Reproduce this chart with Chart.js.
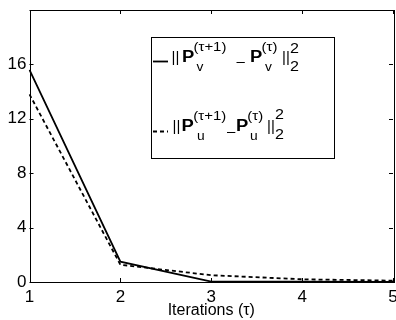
<!DOCTYPE html>
<html>
<head>
<meta charset="utf-8">
<script src="https://cdn.jsdelivr.net/npm/chart.js@4"></script>
<style>
  html, body { margin: 0; padding: 0; background: #fff; }
  #wrap { width: 396px; height: 320px; position: relative; }
</style>
</head>
<body>
<div id="wrap"><canvas id="convChart"></canvas></div>
<script>
const iterations = ['1', '2', '3', '4', '5'];
const diffV = [15.6, 1.5, 0.03, 0.02, 0.01];   // solid
const diffU = [13.8, 1.27, 0.5, 0.2, 0.1];     // dashed
const yMax = 20;
const yStep = 4;
const xTitle = 'Iterations (\u03c4)';

const FONT = '"Liberation Sans", Arial, Helvetica, sans-serif';

function drawText(ctx, text, x, y, size, bold, stretch) {
    ctx.save();
    ctx.font = (bold ? 'bold ' : '') + size + 'px ' + FONT;
    ctx.fillStyle = '#000';
    ctx.textAlign = 'left';
    ctx.textBaseline = 'alphabetic';
    ctx.translate(x, y);
    ctx.scale(stretch || 1.15, 1);
    ctx.fillText(text, 0, 0);
    ctx.restore();
}

// box + inward tick marks, matlab style
const frameTicks = {
    id: 'frameTicks',
    afterDatasetsDraw(chart) {
        const ctx = chart.ctx;
        const a = chart.chartArea;
        const xs = chart.scales.x;
        const ys = chart.scales.y;
        const len = 4;
        ctx.save();
        ctx.strokeStyle = '#000';
        ctx.lineWidth = 1;
        ctx.beginPath();
        xs.ticks.forEach((t, i) => {
            const px = Math.round(xs.getPixelForTick(i)) + 0.5;
            ctx.moveTo(px, a.bottom); ctx.lineTo(px, a.bottom - len);
            ctx.moveTo(px, a.top); ctx.lineTo(px, a.top + len);
        });
        ys.ticks.forEach((t) => {
            const py = Math.round(ys.getPixelForValue(t.value)) + 0.5;
            ctx.moveTo(a.left, py); ctx.lineTo(a.left + len, py);
            ctx.moveTo(a.right, py); ctx.lineTo(a.right - len, py);
        });
        ctx.stroke();
        ctx.strokeRect(Math.round(a.left) + 0.5, Math.round(a.top) + 0.5,
            Math.round(a.right - a.left), Math.round(a.bottom - a.top));
        ctx.restore();
    }
};

// legend with sub/superscripts
const mathLegend = {
    id: 'mathLegend',
    afterDraw(chart) {
        const ctx = chart.ctx;
        ctx.save();
        ctx.fillStyle = '#fff';
        ctx.fillRect(151, 37, 183, 121);
        ctx.strokeStyle = '#000';
        ctx.lineWidth = 1;
        ctx.strokeRect(151.5, 37.5, 183, 121);

        ctx.lineWidth = 1.8;
        ctx.beginPath();
        ctx.moveTo(153, 61.5); ctx.lineTo(168, 61.5);
        ctx.stroke();
        ctx.setLineDash([4, 3]);
        ctx.beginPath();
        ctx.moveTo(153, 131.5); ctx.lineTo(168, 131.5);
        ctx.stroke();
        ctx.restore();

        // first entry
        drawText(ctx, '||', 171.5, 62, 15, false, 1);
        drawText(ctx, 'P', 182, 62, 16, true);
        drawText(ctx, '(\u03c4+1)', 193.5, 51, 13, false);
        drawText(ctx, 'v', 196.5, 71, 12, false);
        drawText(ctx, '\u2013', 236.5, 66, 15, false, 1);
        drawText(ctx, 'P', 250, 62, 16, true);
        drawText(ctx, '(\u03c4)', 261.5, 51, 13, false);
        drawText(ctx, 'v', 265, 71, 12, false);
        drawText(ctx, '||', 282, 62, 15, false, 1);
        drawText(ctx, '2', 290, 52.5, 14, false);
        drawText(ctx, '2', 290, 71, 14, false);

        // second entry
        drawText(ctx, '||', 172.5, 131, 15, false, 1);
        drawText(ctx, 'P', 181.5, 131, 16, true);
        drawText(ctx, '(\u03c4+1)', 193.3, 120, 13, false);
        drawText(ctx, 'u', 197, 140, 12, false);
        drawText(ctx, '\u2013', 227, 135.5, 15, false, 1);
        drawText(ctx, 'P', 236, 131, 16, true);
        drawText(ctx, '(\u03c4)', 247.3, 120, 13, false);
        drawText(ctx, 'u', 250, 140, 12, false);
        drawText(ctx, '||', 267, 131, 15, false, 1);
        drawText(ctx, '2', 275, 119, 14, false);
        drawText(ctx, '2', 275, 139, 14, false);
    }
};

function createConvergenceChart() {
    const ctx = document.getElementById('convChart').getContext('2d');
    new Chart(ctx, {
        type: 'line',
        data: {
            labels: iterations,
            datasets: [{
                label: 'P_v',
                data: diffV,
                borderColor: '#000',
                borderWidth: 1.8,
                pointRadius: 0,
                tension: 0,
                fill: false
            }, {
                label: 'P_u',
                data: diffU,
                borderColor: '#000',
                borderWidth: 1.8,
                borderDash: [4, 3],
                pointRadius: 0,
                tension: 0,
                fill: false
            }]
        },
        options: {
            responsive: true,
            maintainAspectRatio: false,
            animation: false,
            layout: { padding: { left: 0, right: 3, top: 10, bottom: 0 } },
            plugins: {
                legend: { display: false },
                tooltip: { enabled: false }
            },
            scales: {
                x: {
                    type: 'category',
                    offset: false,
                    grid: { display: false, drawTicks: false },
                    border: { display: false },
                    ticks: {
                        color: '#000',
                        padding: 5,
                        maxRotation: 0,
                        autoSkip: false,
                        font: { family: FONT, size: 17 }
                    },
                    title: {
                        display: true,
                        text: xTitle,
                        color: '#000',
                        padding: { top: 0, bottom: 0 },
                        font: { family: FONT, size: 16 }
                    },
                    afterFit(scale) {
                        scale.height = 38;
                        scale.paddingLeft = 0;
                        scale.paddingRight = 0;
                    }
                },
                y: {
                    min: 0,
                    max: yMax,
                    grid: { display: false, drawTicks: false },
                    border: { display: false },
                    ticks: {
                        stepSize: yStep,
                        color: '#000',
                        padding: 3,
                        font: { family: FONT, size: 17 },
                        callback: (v) => (v === yMax ? '' : v)
                    },
                    afterFit(scale) {
                        scale.width = 29.5;
                        scale.paddingTop = 0;
                        scale.paddingBottom = 0;
                    }
                }
            }
        },
        plugins: [frameTicks, mathLegend]
    });
}

document.addEventListener('DOMContentLoaded', createConvergenceChart);
</script>
</body>
</html>
